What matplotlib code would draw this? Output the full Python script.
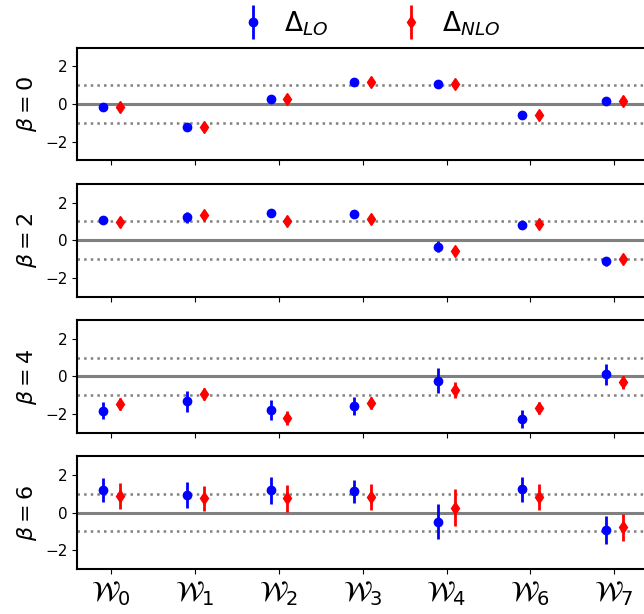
import numpy as np
import matplotlib.pyplot as plt
from matplotlib.container import ErrorbarContainer
from matplotlib.legend_handler import HandlerErrorbar

labels = [r'$\mathcal{W}_0$', r'$\mathcal{W}_1$', r'$\mathcal{W}_2$', r'$\mathcal{W}_3$',
          r'$\mathcal{W}_4$', r'$\mathcal{W}_6$', r'$\mathcal{W}_7$']
betas = [0, 2, 4, 6]

# Delta_LO values and errors, one row per beta
lo_val = [[-0.18, -1.22, 0.28, 1.19, 1.08, -0.57, 0.18],
          [1.06, 1.22, 1.47, 1.38, -0.34, 0.83, -1.13],
          [-1.82, -1.33, -1.78, -1.58, -0.22, -2.27, 0.11],
          [1.22, 0.94, 1.19, 1.13, -0.48, 1.24, -0.94]]
lo_err = [[0.08, 0.1, 0.1, 0.08, 0.1, 0.08, 0.1],
          [0.12, 0.28, 0.22, 0.16, 0.3, 0.16, 0.22],
          [0.47, 0.58, 0.52, 0.48, 0.67, 0.5, 0.58],
          [0.65, 0.71, 0.71, 0.62, 0.92, 0.66, 0.75]]
# Delta_NLO values and errors
nlo_val = [[-0.18, -1.22, 0.28, 1.19, 1.08, -0.57, 0.18],
           [0.98, 1.34, 1.04, 1.12, -0.57, 0.85, -1.0],
           [-1.46, -0.94, -2.23, -1.44, -0.72, -1.68, -0.32],
           [0.9, 0.76, 0.76, 0.85, 0.27, 0.85, -0.78]]
nlo_err = [[0.22, 0.22, 0.22, 0.2, 0.2, 0.2, 0.22],
           [0.22, 0.22, 0.22, 0.22, 0.22, 0.2, 0.22],
           [0.32, 0.33, 0.37, 0.32, 0.45, 0.33, 0.35],
           [0.68, 0.67, 0.73, 0.68, 0.97, 0.68, 0.73]]

x = np.arange(len(labels))

fig, axes = plt.subplots(4, 1, figsize=(6.44, 6.14), dpi=100, sharex=True)
fig.subplots_adjust(left=77 / 644, right=648.5 / 644, top=1 - 47.7 / 614,
                    bottom=1 - 569 / 614, hspace=0.21)

for i, ax in enumerate(axes):
    ax.axhline(0, color='gray', lw=2.2, zorder=0)
    ax.axhline(1, color='gray', lw=1.8, ls=':', zorder=0)
    ax.axhline(-1, color='gray', lw=1.8, ls=':', zorder=0)
    h1 = ax.errorbar(x - 0.1, lo_val[i], yerr=lo_err[i], fmt='o', color='blue',
                     ms=6, elinewidth=2, label=r'$\Delta_{LO}$')
    h2 = ax.errorbar(x + 0.1, nlo_val[i], yerr=nlo_err[i], fmt='d', color='red',
                     ms=6, elinewidth=2, label=r'$\Delta_{NLO}$')
    ax.set_ylim(-3, 3)
    ax.set_yticks([-2, 0, 2])
    ax.tick_params(labelsize=11)
    ax.set_ylabel(r'$\beta = %d$' % betas[i], fontsize=16)
    for sp in ax.spines.values():
        sp.set_linewidth(1.5)

axes[-1].set_xticks(x)
axes[-1].set_xticklabels(labels, fontsize=20)

axes[0].legend(handles=[h1, h2], loc='lower center', bbox_to_anchor=(0.514, 0.875),
               ncol=2, frameon=False, fontsize=19, handlelength=0.9,
               handletextpad=0.72, columnspacing=2.7,
               handler_map={ErrorbarContainer: HandlerErrorbar(yerr_size=0.65)})

fig.savefig('out.png', dpi=100)
